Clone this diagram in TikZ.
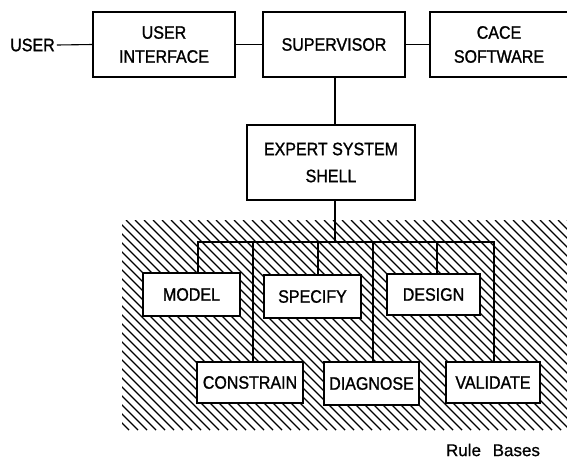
\documentclass[tikz,border=0pt]{standalone}
\usepackage{fontspec}
\setmainfont{Liberation Sans}
\newfontfamily\labelfont[FakeStretch=0.89,FakeBold=1.2]{Liberation Sans}
\newfontfamily\notefont[FakeBold=0.8]{Liberation Sans}
\begin{document}
\begin{tikzpicture}[x=1pt,y=-1pt,
  box/.style={draw, line width=1.6pt, fill=white, inner sep=0pt, align=center,
              font=\labelfont\fontsize{18}{24}\selectfont},
  wire/.style={line width=1.1pt},
  hatchline/.style={line width=1.4pt},
  plain/.style={inner sep=2pt, font=\labelfont\fontsize{18}{24}\selectfont}]
\useasboundingbox (0,0) rectangle (567,459);
\clip (0,0) rectangle (567,459);

% hatched area holding the rule bases
\begin{scope}
  \clip (122,220) rectangle (567,430);
  \foreach \x in {-90,-81,...,570}
    \draw[hatchline] (\x,220) -- ++(210,210);
\end{scope}

% top row
\node[plain] (user) at (32.5,45) {USER};
\node[box, minimum width=142, minimum height=65] (ui)  at (164,44.5) {USER\\INTERFACE};
\node[box, minimum width=142, minimum height=65] (sup) at (334,44.5) {SUPERVISOR};
\node[box, minimum width=138, minimum height=65] (cace) at (499,44.5) {CACE\\SOFTWARE};

% shell
\node[box, minimum width=168, minimum height=75,
      font=\labelfont\fontsize{18}{27}\selectfont] (shell) at (331,162.5) {EXPERT SYSTEM\\SHELL};

% rule bases
\node[box, minimum width=97,  minimum height=43] (model)     at (191.5,294.5) {MODEL};
\node[box, minimum width=97,  minimum height=43] (specify)   at (312.5,296.5) {SPECIFY};
\node[box, minimum width=93,  minimum height=41] (design)    at (433.5,294.5) {DESIGN};
\node[box, minimum width=106, minimum height=41] (constrain) at (250,382.5)   {CONSTRAIN};
\node[box, minimum width=95,  minimum height=43] (diagnose)  at (371.5,383.5) {DIAGNOSE};
\node[box, minimum width=94,  minimum height=41] (validate)  at (493,382.5)   {VALIDATE};

\node[inner sep=0pt, font=\notefont\fontsize{17}{20}\selectfont] (rb) at (493,450) {Rule\hspace{7pt} Bases};

% bus coordinates
\coordinate (jn) at (335,242);
\coordinate (bl) at (198,242);
\coordinate (br) at (494,242);
\coordinate (d2) at (253,242);
\coordinate (d3) at (318,242);
\coordinate (d4) at (373,242);
\coordinate (d5) at (437,242);
\coordinate (sv) at (335,77);

% connectors
\draw[wire] (user.east) -- (ui.west);
\draw[wire] (ui.east) -- (sup.west);
\draw[wire] (sup.east) -- (cace.west);
\draw[wire] (sv |- sup.south) -- (sv |- shell.north);
\draw[wire] (jn |- shell.south) -- (jn);
\draw[wire] (bl |- model.north) -- (bl) -- (br) -- (br |- validate.north);
\draw[wire] (d2) -- (d2 |- constrain.north);
\draw[wire] (d3) -- (d3 |- specify.north);
\draw[wire] (d4) -- (d4 |- diagnose.north);
\draw[wire] (d5) -- (d5 |- design.north);
\end{tikzpicture}
\end{document}
